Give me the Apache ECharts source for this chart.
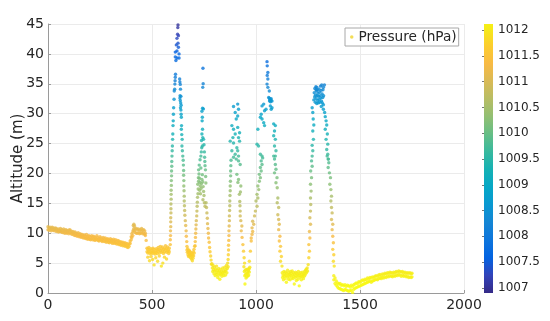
<!DOCTYPE html>
<html>
<head>
<meta charset="utf-8">
<script src="https://cdn.jsdelivr.net/npm/echarts@6/dist/echarts.min.js"></script>
<style>html,body{margin:0;padding:0;background:#fff}#c{width:550px;height:321px}</style>
</head>
<body>
<div id="c"></div>
<script>
// ---- data (time s, altitude m) ----
const xTicks = [0, 500, 1000, 1500, 2000];
const yTicks = [0, 5, 10, 15, 20, 25, 30, 35, 40, 45];
const cbTicks = [1007, 1007.5, 1008, 1008.5, 1009, 1009.5, 1010, 1010.5, 1011, 1011.5, 1012];
const cbMin = 1006.9, cbMax = 1012.12;      // visible colorbar limits (hPa)
const cmapMin = 1006.9, cmapMax = 1012.38;  // pressure span of the full colormap
const groundPressure = 1012.5;
const pressureLapse = 0.122;     // hPa per m

// bands: [t, upper alt, lower alt]
const cruiseBand = [
[0,11.1,10.6],[5,10.9,10.5],[10,11.0,10.7],[15,10.8,10.4],[20,11.0,10.6],[25,10.9,10.5],[30,10.7,10.4],[35,10.9,10.6],[40,10.8,10.3],[45,10.6,10.4],
[50,10.7,10.2],[55,10.5,10.3],[60,10.8,10.3],[65,10.6,10.2],[70,10.5,10.1],[75,10.7,10.2],[80,10.4,10.0],[85,10.6,10.1],[90,10.5,10.0],[95,10.3,10.1],
[100,10.5,9.9],[105,10.6,10.1],[110,10.4,10.0],[115,10.2,9.8],[120,10.3,9.9],[125,10.1,9.7],[130,10.2,9.6],[135,10.0,9.7],[140,9.9,9.5],[145,10.1,9.6],
[150,9.8,9.4],[155,9.9,9.5],[160,9.7,9.3],[165,9.8,9.4],[170,9.6,9.2],[175,9.7,9.3],[180,9.5,9.1],[185,9.8,9.2],[190,9.4,9.0],[195,9.6,9.1],
[200,9.5,9.0],[205,9.3,8.9],[210,9.6,9.1],[215,9.4,8.9],[220,9.5,9.0],[225,9.3,8.8],[230,9.2,8.9],[235,9.6,9.0],[240,9.3,8.8],[245,9.1,8.7],
[250,9.4,8.9],[255,9.2,8.8],[260,9.0,8.6],[265,9.3,8.8],[270,9.1,8.6],[275,9.2,8.7],[280,8.9,8.5],[285,9.1,8.7],[290,9.0,8.5],[295,8.8,8.4],
[300,9.1,8.6],[305,8.9,8.5],[310,8.8,8.3],[315,9.0,8.5],[320,8.7,8.3],[325,8.9,8.4],[330,8.6,8.2],[335,8.8,8.3],[340,8.7,8.1],[345,8.5,8.2],
[350,8.6,8.0],[355,8.4,8.1],[360,8.5,7.9],[365,8.3,8.0],[370,8.4,7.8],[375,8.2,7.9],[380,8.3,7.7],[385,8.0,7.6],[390,8.2,7.8],[395,8.7,8.3],
[400,9.4,8.9],[403,9.9,9.3]
];
const hoverBand = [
[408,10.2,9.6],[410,11.3,10.5],[413,11.5,10.8],[416,11.2,10.4],[420,10.7,10.1],[425,10.8,10.0],[430,10.6,10.0],[435,10.7,10.1],[440,10.5,9.9],
[445,10.6,10.0],[450,10.8,10.2],[455,10.5,9.9],[460,10.6,10.0],[465,10.4,9.8],[468,10.0,9.6]
];
const lowBandA = [
[476,7.5,6.9],[480,7.3,6.7],[485,7.6,7.0],[490,7.2,6.6],[495,7.4,6.8],[500,7.1,6.6],[505,7.5,6.9],[510,7.3,6.7],[515,7.0,6.5],[520,7.4,6.8],
[525,7.2,6.6],[530,7.6,7.0],[535,7.3,6.7],[540,7.8,7.1],[545,7.4,6.8],[550,7.7,7.0],[555,7.3,6.6],[560,7.5,6.9],[565,7.9,7.2],[570,7.4,6.8],
[575,7.7,7.0],[580,7.2,6.6],[583,7.5,6.9]
];
const tailBand = [
[1374,2.9,2.2],[1380,2.5,1.6],[1386,2.0,1.3],[1392,1.7,1.0],[1398,1.5,0.8],[1404,1.6,0.7],[1410,1.3,0.6],[1416,1.4,0.5],[1422,1.2,0.4],[1428,1.4,0.6],
[1434,1.1,0.5],[1440,1.3,0.4],[1446,1.2,0.3],[1452,1.0,0.4],[1458,1.3,0.5],[1464,1.1,0.1],[1470,1.4,0.6],[1476,1.5,0.8],[1482,1.7,0.9],[1488,1.6,1.0],
[1494,1.9,1.1],[1500,1.8,1.2],[1506,2.0,1.3],[1512,2.2,1.4],[1518,2.1,1.5],[1524,2.3,1.6],[1530,2.2,1.7],[1536,2.5,1.8],[1542,2.4,1.9],[1548,2.6,2.0],
[1554,2.5,1.8],[1560,2.7,2.0],[1566,2.6,2.1],[1572,2.8,2.2],[1578,2.9,2.3],[1584,2.8,2.2],[1590,3.0,2.4],[1596,3.1,2.5],[1602,2.9,2.4],[1608,3.2,2.6],
[1614,3.1,2.5],[1620,3.3,2.7],[1626,3.2,2.6],[1632,3.4,2.8],[1638,3.3,2.7],[1644,3.5,2.9],[1650,3.4,2.8],[1656,3.3,2.7],[1662,3.5,2.9],[1668,3.4,2.8],
[1674,3.6,3.0],[1680,3.5,2.9],[1686,3.7,3.1],[1692,3.6,3.0],[1698,3.5,2.8],[1704,3.6,3.0],[1710,3.4,2.8],[1716,3.5,2.9],[1722,3.3,2.7],[1728,3.4,2.8],
[1734,3.3,2.6],[1740,3.4,2.7],[1746,3.2,2.6],[1750,3.3,2.7]
];
// single samples: [t, alt]
const lowScatterA = [[472,8.8],[480,6.0],[488,5.4],[495,6.1],[503,5.6],[510,4.7],[518,5.9],[527,5.3],[535,6.2],[545,4.5],[552,5.0],[560,6.0],[570,5.7]];
const flight1 = [
[588,8.1],[588,8.9],[589,9.6],[589,10.4],[590,11.1],[590,11.9],[590,12.6],[591,13.4],[591,14.1],[591,14.9],[592,15.7],[592,16.5],[592,17.2],[593,18.0],
[593,18.8],[594,19.6],[594,20.4],[595,21.2],[595,22.0],[596,22.9],[597,23.8],[598,24.6],[599,25.7],[600,26.6],[601,28.0],[602,28.8],[603,29.9],[604,31.0],
[606,32.4],[607,33.8],[609,34.1],[610,34.95],[611,35.5],[612,36.1],[613,36.6],
[615,38.9],[620,39.3],[630,39.3],[612,39.5],[630,40.0],[612,40.3],[620,40.5],[627,41.1],[617,41.5],[625,41.8],[620,42.6],[627,43.05],[623,43.3],[624,44.4],[625,44.85],
[633,35.8],[634,35.3],[636,34.9],[637,34.1],[635,33.0],[634,32.6],[636,32.2],[639,32.9],[638,31.8],[640,31.4],[637,31.0],[639,30.6],[640,29.9],[641,29.4],
[642,28.0],[641,27.4],[643,26.5],[645,25.7],[644,24.6],[646,23.8],[648,22.9],[650,22.2],[651,21.4],[652,20.5],[652,19.7],[653,18.8],[653,17.9],[654,17.1],
[655,16.2],[655,15.4],[656,14.6],[657,13.8],[658,13.0],[660,12.1],[662,11.3],[664,10.4],[665,9.5],[667,8.6],[668,7.8]
];
const lowB = [[668,7.2],[670,6.8],[672,7.4],[673,6.4],[675,6.9],[676,6.1],[678,7.1],[679,6.6],[681,6.2],[682,7.0],[684,6.5],[685,5.9],[687,6.8],[688,6.3],
[690,5.7],[691,6.6],[693,6.1],[694,5.4],[696,6.4],[697,5.8],[699,6.9],[700,6.2],[702,7.3],[703,6.7],[705,7.8]];
const flight2 = [
[707,7.9],[708,8.6],[709,9.3],[710,10.0],[711,10.7],[712,11.4],[713,12.1],[715,12.9],[716,13.7],[717,14.5],[718,15.2],[719,16.0],[721,16.6],[722,17.4],
[720,18.2],[724,18.7],[723,19.3],[726,19.9],[724,20.6],[727,21.4],[731,22.3],[735,22.9],[737,23.6],[739,24.3],[742,24.6],[738,25.5],[744,26.0],[740,26.6],
[743,27.4],[741,28.8],[742,29.4],[740,30.4],[743,30.9],[747,30.8],[744,34.4],[746,35.0],[745,37.6],
[728,19.2],[730,18.5],[732,17.9],[729,17.2],[733,16.6],[736,17.5],[738,18.3],[740,19.0],[742,19.8],[744,18.6],[746,17.8],[748,17.0],[750,16.3],[745,15.6],
[752,15.1],[755,14.5],[735,20.9],
[748,25.7],[750,24.8],[752,23.6],[753,22.7],[754,22.0],[755,21.3],[757,20.6],[758,19.5],[759,18.4],[760,15.1],[762,14.3],[764,13.4],[766,12.5],[767,11.6],
[769,10.8],[771,10.0],[772,9.2],[775,8.5],[777,7.6],[779,6.9],[782,6.2],[784,5.5],[786,4.8]
];
const lowC = [[788,4.9],[790,4.2],[792,3.6],[794,4.6],[796,3.9],[798,3.2],[800,4.3],[802,3.7],[804,2.9],[806,4.0],[808,3.4],[810,4.5],[812,3.1],[814,3.8],
[816,2.6],[818,3.5],[820,4.1],[822,3.0],[824,3.7],[826,2.3],[828,3.3],[830,4.0],[832,3.1],[834,3.6],[836,2.8],[838,3.4],[840,4.2],[842,3.2],[844,3.8],
[846,2.9],[848,3.5],[850,4.3],[852,3.6],[854,3.0],[856,3.9],[858,4.6],[860,3.4],[862,4.1],[864,5.0],[866,4.4]];
const flight3 = [
[866,5.6],[867,6.4],[868,7.2],[868,8.0],[869,8.8],[870,9.6],[870,10.4],[871,11.2],[872,12.1],[872,12.9],[873,13.8],[874,14.6],[874,15.4],[875,16.3],
[876,17.1],[876,17.9],[877,18.7],[878,19.6],[878,20.4],[879,21.3],[880,22.2],
[912,31.6],[892,31.2],[916,30.75],[900,30.2],[912,29.6],[905,29.1],[884,28.0],[892,27.4],[912,27.7],[921,26.8],[900,26.6],[889,26.0],[916,26.0],[876,25.4],
[892,25.1],[921,25.4],[908,24.3],[884,23.8],[912,23.8],[900,23.2],[892,22.7],[916,22.9],
[905,22.4],[916,22.1],[924,21.5],[908,19.85],[916,19.0],[913,18.5],[927,17.9],[925,16.9],[920,16.5],[922,15.3],[923,14.6],[924,13.7],[924,12.9],[927,12.1],
[932,11.2],[929,10.4],[933,9.3],[937,8.1],[940,7.0],[943,5.9],[945,5.0]
];
const lowD = [[942,4.4],[944,3.6],[946,2.9],[947,1.5],[948,3.8],[950,3.1],[952,2.5],[953,3.9],[955,3.3],[957,2.7],[958,4.0],[960,3.4],[962,2.9],[963,3.7],
[965,3.0],[967,4.1],[968,3.5],[970,4.3]];
const flight4 = [
[965,3.9],[968,5.3],[973,7.0],[977,8.7],[977,9.2],[981,9.8],[984,10.3],[981,10.9],[989,11.5],[984,12.0],[993,12.9],[997,13.7],[1005,14.5],[1000,15.4],
[1009,15.9],[1005,16.5],[1013,17.3],[1009,17.9],[1016,18.7],[1021,19.3],[1016,19.85],[1025,20.4],[1021,21.0],[1029,21.5],[1025,22.1],[1032,22.6],
[1005,24.9],[1012,24.6],[1021,23.2],[1029,22.9],[1009,27.4],[1025,29.9],[1021,29.4],[1029,29.1],[1037,31.6],[1029,31.3],[1048,30.75],[1041,30.5],[1037,28.5],
[1041,28.0],[1053,38.7],[1054,38.0],[1057,36.9],[1054,36.4],[1057,35.8],[1053,34.95],[1057,34.4],[1064,33.8],[1061,32.7],[1069,32.4],[1073,32.5],[1065,32.1],
[1077,32.1],[1066,32.3],[1070,32.0],[1072,32.2],[1064,32.6],[1069,31.3],[1077,31.0],[1073,30.75],[1085,28.3],[1093,28.0],[1089,27.1],[1085,26.3],[1093,25.7],
[1089,24.6],[1096,23.8],[1093,22.9],
[1085,22.9],[1089,22.4],[1093,21.5],[1096,20.7],[1089,20.1],[1101,19.3],[1096,18.45],[1102,17.6],[1105,15.9],[1102,15.1],[1109,14.3],[1105,13.1],[1109,12.3],
[1112,11.5],[1109,10.6],[1115,9.5],[1112,8.7],[1118,7.8],[1115,7.0],[1122,6.1],[1118,5.3],[1125,4.5]
];
const lowE = [[1126,3.4],[1128,2.6],[1130,3.0],[1132,2.2],[1134,3.6],[1136,2.8],[1138,3.2],[1140,2.4],[1142,3.5],[1144,2.9],[1146,1.8],[1148,3.3],[1150,2.7],
[1152,3.8],[1154,3.0],[1156,2.3],[1158,3.4],[1160,2.7],[1162,3.1],[1164,2.2],[1166,3.6],[1168,2.9],[1170,3.3],[1172,2.5],[1174,3.7],[1176,3.0],[1178,2.4],
[1180,3.4],[1182,2.8],[1184,1.5],[1186,3.2],[1188,2.6],[1190,3.5],[1192,2.9],[1194,2.1],[1196,3.3],[1198,2.7],[1200,3.1],[1202,2.3],[1204,3.6],[1206,2.9],
[1208,1.2],[1210,3.2],[1212,2.6],[1214,3.4],[1216,2.8],[1218,2.2],[1220,3.0],[1222,3.5],[1224,2.7],[1226,3.1],[1228,2.4],[1230,3.3],[1232,2.8],[1234,3.6],
[1236,3.0],[1238,3.8],[1240,3.3],[1242,4.0],[1244,3.5],[1246,4.2],[1248,3.7]];
const flight5 = [
[1251,4.75],[1254,5.9],[1257,7.0],[1254,8.1],[1259,9.2],[1257,10.3],[1262,11.5],[1259,12.6],[1262,13.7],[1263,14.8],[1262,15.9],[1265,17.05],[1262,18.2],
[1267,19.3],[1263,20.4],[1270,21.2],[1267,22.1],[1270,22.9],[1273,23.8],[1270,24.7],[1276,25.7],[1273,27.1],[1278,28.1],[1275,29.1],[1270,31.0],[1273,30.2],
[1278,32.3],[1280,33.5],[1282,32.8],[1283,34.2],[1285,31.9],[1286,33.1],[1288,34.5],[1289,32.5],[1291,33.8],[1292,31.7],[1294,33.0],[1295,34.0],[1297,32.2],
[1298,33.4],[1300,31.8],[1301,32.9],[1303,34.1],[1304,32.4],[1306,33.6],[1307,31.9],[1309,33.0],[1310,34.6],[1312,32.6],[1313,33.9],[1315,32.1],[1316,34.8],
[1318,33.3],[1319,31.8],[1321,32.7],[1322,34.0],[1324,31.5],[1325,33.0],[1329,34.8],[1324,34.4],[1292,34.4],[1289,34.0],
[1314,31.2],[1324,30.75],[1330,30.2],[1333,29.5],[1337,28.8],[1340,28.1],[1333,27.4],[1343,26.6],[1337,25.7],[1345,24.9],[1340,24.0],[1345,23.2],[1348,22.4],
[1342,22.9],[1347,22.4],[1350,21.8],[1347,21.0],[1353,20.1],[1358,19.3],[1355,18.2],[1360,17.3],[1363,16.2],[1360,15.4],[1363,14.3],[1366,13.4],[1363,12.3],
[1369,11.5],[1366,10.6],[1369,9.5],[1372,8.4],[1369,7.3],[1374,6.4],[1372,5.3],[1376,4.5]
];

// ---- build series data ----
function expandBand(b) { const out = []; b.forEach(r => { out.push([r[0], r[1]]); out.push([r[0], r[2]]); }); return out; }
const points = [].concat(
  expandBand(cruiseBand), expandBand(hoverBand), expandBand(lowBandA), lowScatterA,
  flight1, lowB, flight2, lowC, flight3, lowD, flight4, lowE, flight5, expandBand(tailBand)
);

// parula colormap, evenly spaced (low -> high)
const parula = ['#352a87','#3243b9','#0363e1','#0d75dc','#1485d4','#0998d1','#06a7c6','#15b1b4','#38b99e',
                '#65be86','#92bf73','#b7bd64','#d9ba56','#f8ba44','#fccd2e','#f5eb18','#f9fb0e'];
const FONT = 'DejaVu Sans';
const TXT = '#262626';
const AX = '#9a9a9a';

const chart = echarts.init(document.getElementById('c'), null, { renderer: 'canvas' });
chart.setOption({
  animation: false,
  backgroundColor: '#fff',
  textStyle: { fontFamily: FONT },
  grid: [
    { left: 48, top: 24, width: 416, height: 269, containLabel: false, outerBoundsMode: 'none' },
    { left: 484, top: 24, width: 9, height: 269, containLabel: false, outerBoundsMode: 'none' }
  ],
  legend: {
    left: 345, top: 28,
    padding: [2, 2, 2, 5],
    itemWidth: 3.5, itemHeight: 3.5,
    backgroundColor: '#fff', borderColor: '#a8a8a8', borderWidth: 1,
    textStyle: { fontSize: 13.7, color: TXT, fontFamily: FONT },
    data: [{ name: 'Pressure (hPa)', icon: 'circle', itemStyle: { color: '#f0d52c' } }]
  },
  visualMap: {
    type: 'continuous', show: false, seriesIndex: 0, dimension: 1,
    min: (groundPressure - cmapMax) / pressureLapse,
    max: (groundPressure - cmapMin) / pressureLapse,
    inRange: { color: parula.slice().reverse() }
  },
  xAxis: [
    {
      gridIndex: 0, type: 'value', min: xTicks[0], max: xTicks[xTicks.length - 1], interval: 500,
      axisLine: { show: true, lineStyle: { color: AX } },
      axisTick: { show: true, inside: true, length: 3, lineStyle: { color: AX } },
      axisLabel: { fontSize: 14, color: TXT, margin: 5, fontFamily: FONT, formatter: v => String(v) },
      splitLine: { show: true, lineStyle: { color: '#ebebeb' } }
    },
    { gridIndex: 1, type: 'value', min: 0, max: 1, show: false }
  ],
  yAxis: [
    {
      gridIndex: 0, type: 'value', min: yTicks[0], max: yTicks[yTicks.length - 1], interval: 5,
      name: 'Altitude (m)', nameLocation: 'middle', nameGap: 22, nameMoveOverlap: false,
      nameTextStyle: { fontSize: 15, color: TXT, fontFamily: FONT },
      axisLine: { show: true, lineStyle: { color: AX } },
      axisTick: { show: true, inside: true, length: 3, lineStyle: { color: AX } },
      axisLabel: { fontSize: 14, color: TXT, margin: 4, fontFamily: FONT, formatter: v => String(v) },
      splitLine: { show: true, lineStyle: { color: '#ebebeb' } }
    },
    {
      gridIndex: 1, type: 'value', min: cbMin, max: cbMax, position: 'right',
      axisLine: { show: false },
      axisTick: { show: true, inside: true, length: 2, customValues: cbTicks, lineStyle: { color: '#777' } },
      axisLabel: { fontSize: 12, color: TXT, margin: 5, fontFamily: FONT, customValues: cbTicks, formatter: v => String(v) },
      splitLine: { show: false }
    }
  ],
  series: [
    {
      name: 'Pressure (hPa)', type: 'scatter', xAxisIndex: 0, yAxisIndex: 0,
      symbol: 'circle', symbolSize: 3.4, itemStyle: { color: '#f0d52c' },
      data: points, silent: true, z: 3
    },
    {
      type: 'custom', xAxisIndex: 1, yAxisIndex: 1, silent: true, clip: true,
      data: [[0, cmapMin, cmapMax]],
      renderItem: function (params, api) {
        const top = api.coord([0, api.value(2)]);
        const bot = api.coord([1, api.value(1)]);
        const stops = parula.slice().reverse().map((c, i, a) => ({ offset: i / (a.length - 1), color: c }));
        return {
          type: 'rect',
          shape: { x: top[0], y: top[1], width: bot[0] - top[0], height: bot[1] - top[1] },
          style: { fill: new echarts.graphic.LinearGradient(0, 0, 0, 1, stops) }
        };
      }
    }
  ]
});
</script>
</body>
</html>
